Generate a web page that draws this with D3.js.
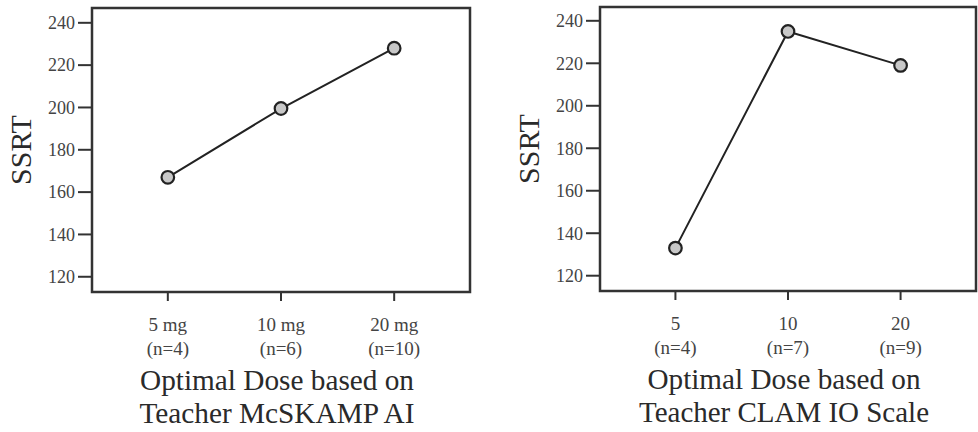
<!DOCTYPE html>
<html><head><meta charset="utf-8">
<script src="https://cdn.jsdelivr.net/npm/d3@7"></script>
<style>
html,body{margin:0;padding:0;background:#fff;}
svg{display:block;}
</style></head>
<body>
<svg id="c" width="978" height="432"></svg>
<script>
const yTicks = [120, 140, 160, 180, 200, 220, 240];

const leftCats = ["5 mg", "10 mg", "20 mg"];
const leftN = ["(n=4)", "(n=6)", "(n=10)"];
const leftVals = [167, 199.5, 228];
const leftTitle = ["Optimal Dose based on", "Teacher McSKAMP AI"];

const rightCats = ["5", "10", "20"];
const rightN = ["(n=4)", "(n=7)", "(n=9)"];
const rightVals = [133, 235, 219];
const rightTitle = ["Optimal Dose based on", "Teacher CLAM IO Scale"];

const svg = d3.select("#c");
const FONT = "'Liberation Serif', 'Times New Roman', serif";

function panel(cfg) {
  const {x0, x1, y0, y1, cats, ns, vals, title, yTop, titleW} = cfg;
  const g = svg.append("g");
  const x = d3.scalePoint().domain(cats).range([x0, x1]).padding(0.67);
  const y = d3.scaleLinear().domain([112.8, yTop]).range([y1, y0]);

  // y ticks
  const yt = g.append("g");
  yTicks.forEach(t => {
    yt.append("line").attr("x1", x0 - 14).attr("x2", x0).attr("y1", y(t)).attr("y2", y(t))
      .attr("stroke", "#333").attr("stroke-width", 2);
    yt.append("text").attr("x", x0 - 17).attr("y", y(t)).attr("dy", "0.35em")
      .attr("text-anchor", "end").attr("font-family", FONT).attr("font-size", 18)
      .attr("fill", "#444").attr("textLength", 27).attr("lengthAdjust", "spacingAndGlyphs").text(t);
  });
  // x ticks
  cats.forEach((c, i) => {
    g.append("line").attr("x1", x(c)).attr("x2", x(c)).attr("y1", y1).attr("y2", y1 + 9)
      .attr("stroke", "#333").attr("stroke-width", 2);
    g.append("text").attr("x", x(c)).attr("y", y1 + 39).attr("text-anchor", "middle")
      .attr("font-family", FONT).attr("font-size", 19).attr("fill", "#444").text(c);
    g.append("text").attr("x", x(c)).attr("y", y1 + 63).attr("text-anchor", "middle")
      .attr("font-family", FONT).attr("font-size", 19).attr("fill", "#444").text(ns[i]);
  });
  // frame
  g.append("rect").attr("x", x0).attr("y", y0).attr("width", x1 - x0).attr("height", y1 - y0)
    .attr("fill", "none").attr("stroke", "#333").attr("stroke-width", 2.5);

  // line
  const line = d3.line().x((d, i) => x(cats[i])).y(d => y(d));
  g.append("path").datum(vals).attr("d", line).attr("fill", "none")
    .attr("stroke", "#222").attr("stroke-width", 2);
  g.selectAll("circle.pt").data(vals).enter().append("circle")
    .attr("cx", (d, i) => x(cats[i])).attr("cy", d => y(d)).attr("r", 6.3)
    .attr("fill", "#c8c8c8").attr("stroke", "#222").attr("stroke-width", 2.2);

  // y title
  g.append("text").attr("transform", `translate(${x0 - 72},${(y0 + y1) / 2}) rotate(-90)`)
    .attr("text-anchor", "middle").attr("dy", "0.35em").attr("font-family", FONT)
    .attr("font-size", 30).attr("fill", "#2a2a2a").text("SSRT");
  // x title
  const cx = x(cats[1]) - 4;
  title.forEach((t, i) => {
    g.append("text").attr("x", cx).attr("y", y1 + 98 + i * 33).attr("text-anchor", "middle")
      .attr("font-family", FONT).attr("font-size", 30).attr("fill", "#2a2a2a")
      .attr("textLength", titleW[i]).attr("lengthAdjust", "spacingAndGlyphs").text(t);
  });
}

panel({x0: 92, x1: 470, y0: 8, y1: 292, cats: leftCats, ns: leftN, vals: leftVals, title: leftTitle, yTop: 247, titleW: [274, 275]});
panel({x0: 600, x1: 976, y0: 7, y1: 291, cats: rightCats, ns: rightN, vals: rightVals, title: rightTitle, yTop: 246.5, titleW: [273, 290]});
</script>
</body></html>
